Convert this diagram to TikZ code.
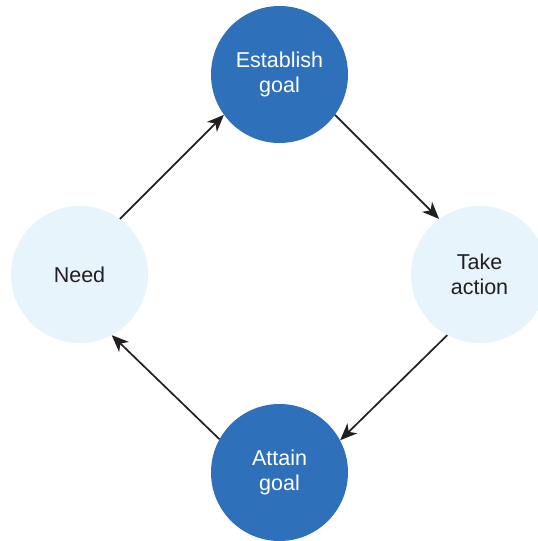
\documentclass[tikz,border=0pt]{standalone}
\usepackage{fontspec}
\setmainfont{Liberation Sans}
\usetikzlibrary{arrows.meta}
\definecolor{darkblue}{RGB}{46,112,185}
\definecolor{lightblue}{RGB}{231,244,251}
\definecolor{ink}{RGB}{35,31,32}
\begin{document}
\begin{tikzpicture}[x=1pt,y=-1pt,
  stage/.style={circle,minimum size=137pt,inner sep=0pt,align=center,
    font=\fontsize{21.5}{25.5}\selectfont},
  darkstage/.style={stage,fill=darkblue,text=white},
  lightstage/.style={stage,fill=lightblue,text=ink},
  flow/.style={draw=ink,line width=1.7pt,-{Stealth[length=17pt,width=14pt,inset=5pt]}}]
\useasboundingbox (0,0) rectangle (538,541);
\clip (0,0) rectangle (538,541);
\node[darkstage] (est) at (279.5,74.5) {Establish\\goal};
\node[lightstage] (take) at (479.5,274.5) {Take\\action};
\node[darkstage] (att) at (279.5,472.5) {Attain\\goal};
\node[lightstage] (need) at (79.5,274.5) {Need};
\draw[flow] (need.54) -- (est.216);
\draw[flow] (est.324) -- (take.126);
\draw[flow] (take.242) -- (att.28);
\draw[flow] (att.151) -- (need.298);
\end{tikzpicture}
\end{document}
